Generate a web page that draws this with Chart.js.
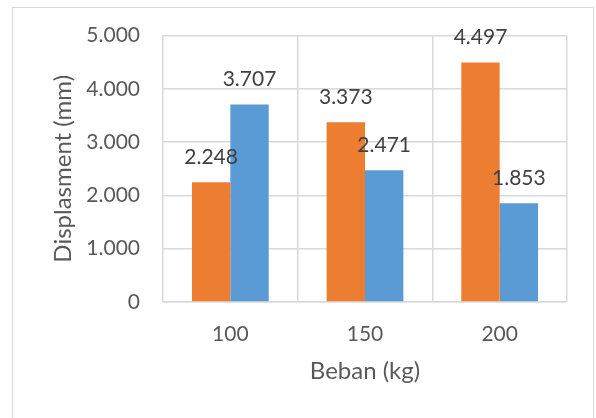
<!DOCTYPE html>
<html>
<head>
<meta charset="utf-8">
<script src="https://cdn.jsdelivr.net/npm/chart.js@4"></script>
<style>
  html, body { margin: 0; padding: 0; background: #ffffff; }
  #wrap { width: 596px; height: 418px; position: relative; }
</style>
</head>
<body>
<div id="wrap"><canvas id="chart" width="596" height="418"></canvas></div>
<script>
// Load categories (kg) and measured displacement (mm)
const categories = ['100', '150', '200'];
const seriesOrange = [2.248, 3.373, 4.497];
const seriesBlue = [3.707, 2.471, 1.853];
const yTicks = [0, 1, 2, 3, 4, 5];

const FONT = 'Lato';
const TEXT = '#595959';
const GRID = '#D9D9D9';

const fmt = v => (v === 0 ? '0' : v.toFixed(3));

// Outer frame around the whole chart
const framePlugin = {
  id: 'frame',
  beforeDraw(chart) {
    const ctx = chart.ctx;
    ctx.save();
    ctx.fillStyle = '#ffffff';
    ctx.fillRect(0, 0, chart.width, chart.height);
    ctx.strokeStyle = GRID;
    ctx.lineWidth = 1;
    ctx.strokeRect(12.5, 7.5, 581, 430);
    ctx.restore();
  }
};

// Value labels above each bar
const valueLabels = {
  id: 'valueLabels',
  afterDatasetsDraw(chart) {
    const ctx = chart.ctx;
    ctx.save();
    ctx.font = '21px ' + FONT;
    ctx.fillStyle = '#404040';
    ctx.textAlign = 'center';
    ctx.textBaseline = 'middle';
    chart.data.datasets.forEach((ds, i) => {
      const meta = chart.getDatasetMeta(i);
      meta.data.forEach((bar, j) => {
        ctx.fillText(fmt(ds.data[j]), bar.x, bar.y - 25);
      });
    });
    ctx.restore();
  }
};

new Chart(document.getElementById('chart'), {
  type: 'bar',
  data: {
    labels: categories,
    datasets: [
      { data: seriesOrange, backgroundColor: '#ED7D31' },
      { data: seriesBlue, backgroundColor: '#5B9BD5' }
    ]
  },
  options: {
    responsive: false,
    animation: false,
    devicePixelRatio: 1,
    layout: { padding: { left: 40, top: 27, right: 29, bottom: 28 } },
    datasets: { bar: { barPercentage: 1, categoryPercentage: 0.57 } },
    plugins: { legend: { display: false }, tooltip: { enabled: false } },
    scales: {
      x: {
        grid: { color: GRID, lineWidth: 1.5, drawTicks: false },
        border: { color: GRID, width: 1.5 },
        ticks: { color: TEXT, font: { family: FONT, size: 21 }, padding: 20 },
        title: { display: true, text: 'Beban (kg)', color: TEXT,
                 font: { family: FONT, size: 24 }, padding: { top: 0, bottom: 4 } },
        afterFit(scale) { scale.height = 88; }
      },
      y: {
        min: 0,
        max: 5,
        afterBuildTicks(scale) { scale.ticks = yTicks.map(v => ({ value: v })); },
        grid: { color: GRID, lineWidth: 1.5, drawTicks: false },
        border: { display: false },
        ticks: { color: TEXT, font: { family: FONT, size: 21 }, padding: 23,
                 callback: v => fmt(v) },
        title: { display: true, text: 'Displasment (mm)', color: TEXT,
                 font: { family: FONT, size: 24 }, padding: { top: 9, bottom: 0 } },
        afterFit(scale) { scale.width = 123; }
      }
    }
  },
  plugins: [framePlugin, valueLabels]
});
</script>
</body>
</html>
